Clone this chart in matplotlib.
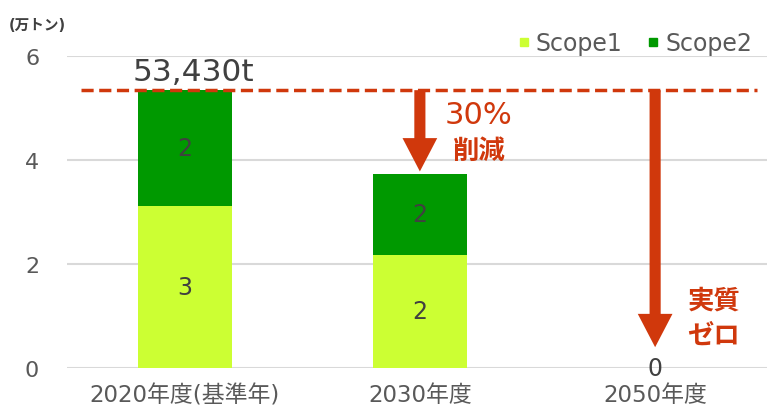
import numpy as np
import matplotlib
matplotlib.use("Agg")
import matplotlib.pyplot as plt
from matplotlib.lines import Line2D

plt.rcParams['font.family'] = ['DejaVu Sans', 'Noto Sans CJK JP']

# データ（万トン）
years = ['2020年度(基準年)', '2030年度', '2050年度']
scope1 = [3.12, 2.18, 0.0]
scope2 = [2.223, 1.55, 0.0]
scope1_labels = ['3', '2', '']
scope2_labels = ['2', '2', '0']
base_total = 5.343
base_text = '53,430t'
target_2030 = 3.78
target_2050 = 0.40

col_s1 = '#CCFF33'
col_s2 = '#009900'
col_red = '#D0380C'
col_txt = '#404040'
col_grid = '#D9D9D9'

fig = plt.figure(figsize=(7.67, 4.10), dpi=100)
# axes: 左端 67px, y=0 at 369px, y=6 at 57px
ax = fig.add_axes([67/767, 41/410, 705.75/767, 312/410])

x = np.arange(len(years))
b1 = ax.bar(x, scope1, width=0.40, color=col_s1, zorder=3)
b2 = ax.bar(x, scope2, width=0.40, bottom=scope1, color=col_s2, zorder=3)
ax.bar_label(b1, labels=scope1_labels, label_type='center', fontsize=17, color=col_txt)
ax.bar_label(b2, labels=scope2_labels, label_type='center', fontsize=17, color=col_txt)

ax.set_xlim(-0.5, 2.5)
ax.set_ylim(0, 6)
ax.set_yticks([0, 2, 4, 6])
ax.set_xticks(x)
ax.set_xticklabels(years)
ax.tick_params(axis='both', length=0, colors='#595959', labelsize=16)
ax.tick_params(axis='x', pad=11, labelsize=16.5)
ax.tick_params(axis='y', pad=20)
for s in ax.spines.values():
    s.set_visible(False)
ax.yaxis.grid(True, color=col_grid, linewidth=1.5, zorder=0)
ax.set_axisbelow(True)

# 基準線
ax.hlines(base_total, -0.44, 2.435, colors=col_red, linestyles=(0, (3.5, 1.6)),
          linewidth=2.5, zorder=4)
ax.text(0.036, 5.71, base_text, ha='center', va='center', fontsize=22.5, color=col_txt)

# 矢印
arrow_kw = dict(facecolor=col_red, edgecolor='none', width=8, headwidth=25,
                headlength=24, shrink=0)
ax.annotate('', xy=(1, target_2030), xytext=(1, base_total), arrowprops=arrow_kw, zorder=5)
ax.annotate('', xy=(2, target_2050), xytext=(2, base_total), arrowprops=arrow_kw, zorder=5)

ax.text(1.25, 4.88, '30%', ha='center', va='center', fontsize=22, color=col_red)
ax.text(1.25, 4.17, '削減', ha='center', va='center', fontsize=19, color=col_red,
        fontweight='bold')
ax.text(2.25, 1.29, '実質', ha='center', va='center', fontsize=19, color=col_red,
        fontweight='bold')
ax.text(2.25, 0.62, 'ゼロ', ha='center', va='center', fontsize=19, color=col_red,
        fontweight='bold')

# 単位
fig.text(37/767, 1 - 25/410, '(万トン)', ha='center', va='center', fontsize=10.5,
         color=col_txt, fontweight='bold')

# 凡例
handles = [Line2D([], [], marker='s', linestyle='none', color=col_s1, markersize=5.5),
           Line2D([], [], marker='s', linestyle='none', color=col_s2, markersize=5.5)]
fig.legend(handles, ['Scope1', 'Scope2'], loc='center right',
           bbox_to_anchor=(752/767, 1 - 44/410), ncol=2, frameon=False,
           fontsize=17, handletextpad=0.1, columnspacing=0.9, handlelength=0.8,
           labelcolor='#595959', borderaxespad=0, borderpad=0)

fig.savefig('out.png', dpi=100)
